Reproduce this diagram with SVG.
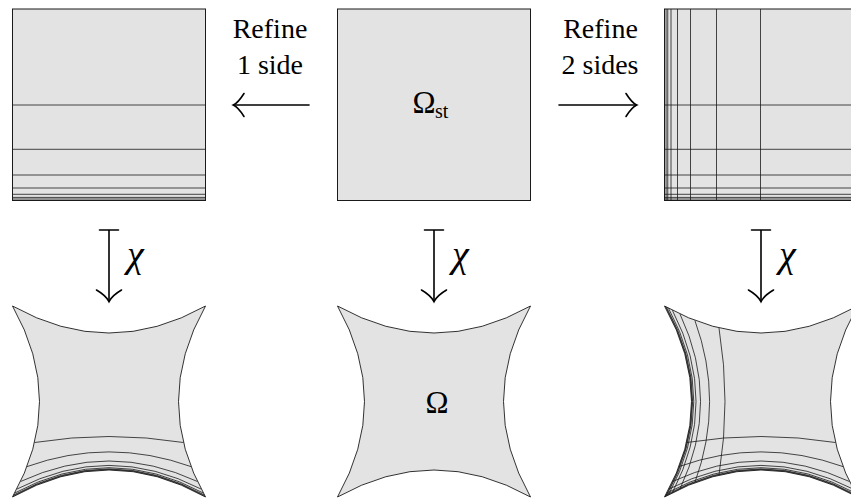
<svg xmlns="http://www.w3.org/2000/svg" width="851" height="498" viewBox="0 0 851 498">
<style>
.bg{fill:#ffffff}
.sq{fill:#e3e3e3;stroke:#1a1a1a;stroke-width:1}
.shape{fill:#e3e3e3;stroke:none}
.outline{fill:none;stroke:#1a1a1a;stroke-width:0.9}
.grid{fill:none;stroke:#1a1a1a;stroke-width:0.8}
.arr{fill:none;stroke:#000;stroke-width:1.6;stroke-linecap:round}
.t{font-family:"Liberation Serif","Times New Roman",Times,"Nimbus Roman","Noto Serif","DejaVu Serif",serif;fill:#000}
.lbl{font-size:28px;text-anchor:middle}
.om{font-size:31px}
.sub{font-size:20px}
.chi{font-size:38px;font-style:italic}
</style>
<rect class="bg" x="0" y="0" width="851" height="498"/>

<g id="square-refine-1-side">
  <rect class="sq" x="12.5" y="9" width="193" height="191.5"/>
  <path class="grid" d="M12.5,105H205.5M12.5,149.3H205.5M12.5,175H205.5M12.5,188H205.5M12.5,194.3H205.5M12.5,197.4H205.5M12.5,199H205.5"/>
</g>

<g id="square-omega-st">
  <rect class="sq" x="337.5" y="9" width="193" height="191.5"/>
  <text class="t om" x="412.5" y="113.3">Ω</text>
  <text class="t sub" x="435" y="117.5">st</text>
</g>

<g id="square-refine-2-sides">
  <rect class="sq" x="664.5" y="9" width="193" height="191.5"/>
  <path class="grid" d="M664.5,105H857.5M664.5,149.3H857.5M664.5,175H857.5M664.5,188H857.5M664.5,194.3H857.5M664.5,197.4H857.5M664.5,199H857.5"/>
  <path class="grid" d="M760.5,9V200.5M716.5,9V200.5M690.5,9V200.5M677.5,9V200.5M671,9V200.5M667.75,9V200.5M666.1,9V200.5"/>
</g>

<g id="domain-refine-1-side">
  <path class="shape" d="M12.5,306 Q109,360 205.5,306 Q151.5,401.5 205.5,497 Q109,443 12.5,497 Q66.5,401.5 12.5,306 Z"/>
  <path class="grid" d="M34.5,442.5 Q109,430.5 183.5,442.5 M26.96,466.6 Q109,437.2 191.04,466.6 M20.56,481.5 Q109,440.5 197.44,481.5 M16.79,489.1 Q109,441.7 201.21,489.1 M14.71,493 Q109,442.4 203.29,493 M13.62,495 Q109,442.8 204.38,495 M13.06,496 Q109,442.8 204.94,496"/>
  <path class="outline" d="M12.5,306 Q109,360 205.5,306 Q151.5,401.5 205.5,497 Q109,443 12.5,497 Q66.5,401.5 12.5,306 Z"/>
</g>

<g id="domain-omega">
  <path class="shape" d="M337.5,306 Q434,360 530.5,306 Q476.5,401.5 530.5,497 Q434,443 337.5,497 Q391.5,401.5 337.5,306 Z"/>
  <path class="outline" d="M337.5,306 Q434,360 530.5,306 Q476.5,401.5 530.5,497 Q434,443 337.5,497 Q391.5,401.5 337.5,306 Z"/>
  <text class="t om" x="425.5" y="412.7">Ω</text>
</g>

<g id="domain-refine-2-sides">
  <path class="shape" d="M664.5,306 Q761,360 857.5,306 Q803.5,401.5 857.5,497 Q761,443 664.5,497 Q718.5,401.5 664.5,306 Z"/>
  <path class="grid" d="M686.5,442.5 Q761,430.5 835.5,442.5 M678.96,466.6 Q761,437.2 843.04,466.6 M672.56,481.5 Q761,440.5 849.44,481.5 M668.79,489.1 Q761,441.7 853.21,489.1 M666.71,493 Q761,442.4 855.29,493 M665.62,495 Q761,442.8 856.38,495 M665.06,496 Q761,442.8 856.94,496"/>
  <path class="grid" d="M719,328 Q731,401.5 719,475 M694.9,320.46 Q724.3,401.5 694.9,482.54 M680,314.06 Q721.1,401.5 680,488.94 M672.4,310.29 Q719.72,401.5 672.4,492.71 M668.5,308.21 Q719.06,401.5 668.5,494.79 M666.5,307.12 Q718.78,401.5 666.5,495.88 M665.5,306.56 Q718.64,401.5 665.5,496.44"/>
  <path class="outline" d="M664.5,306 Q761,360 857.5,306 Q803.5,401.5 857.5,497 Q761,443 664.5,497 Q718.5,401.5 664.5,306 Z"/>
</g>

<g id="connectors">
  <g id="arrow-refine-1-side">
    <path class="arr" d="M309,105H234"/>
    <path class="arr" d="M244,93.5 Q238,103 233.3,105 Q238,107 244,116.5"/>
    <text class="t lbl" x="270" y="38">Refine</text>
    <text class="t lbl" x="270" y="74">1 side</text>
  </g>
  <g id="arrow-refine-2-sides">
    <path class="arr" d="M559,105H636"/>
    <path class="arr" d="M626,93.5 Q632,103 636.7,105 Q632,107 626,116.5"/>
    <text class="t lbl" x="600.5" y="38">Refine</text>
    <text class="t lbl" x="600" y="74">2 sides</text>
  </g>
  <g id="map-chi-left">
    <path class="arr" d="M99.5,230H118.5M109,230V301"/>
    <path class="arr" d="M96.5,290 Q106,295.5 109,301.7 Q112,295.5 121.5,290"/>
    <text class="t chi" x="127" y="267">χ</text>
  </g>
  <g id="map-chi-center">
    <path class="arr" d="M424.5,230H443.5M434,230V301"/>
    <path class="arr" d="M421.5,290 Q431,295.5 434,301.7 Q437,295.5 446.5,290"/>
    <text class="t chi" x="452" y="267">χ</text>
  </g>
  <g id="map-chi-right">
    <path class="arr" d="M751.5,230H770.5M761,230V301"/>
    <path class="arr" d="M748.5,290 Q758,295.5 761,301.7 Q764,295.5 773.5,290"/>
    <text class="t chi" x="779" y="267">χ</text>
  </g>
</g>
</svg>
